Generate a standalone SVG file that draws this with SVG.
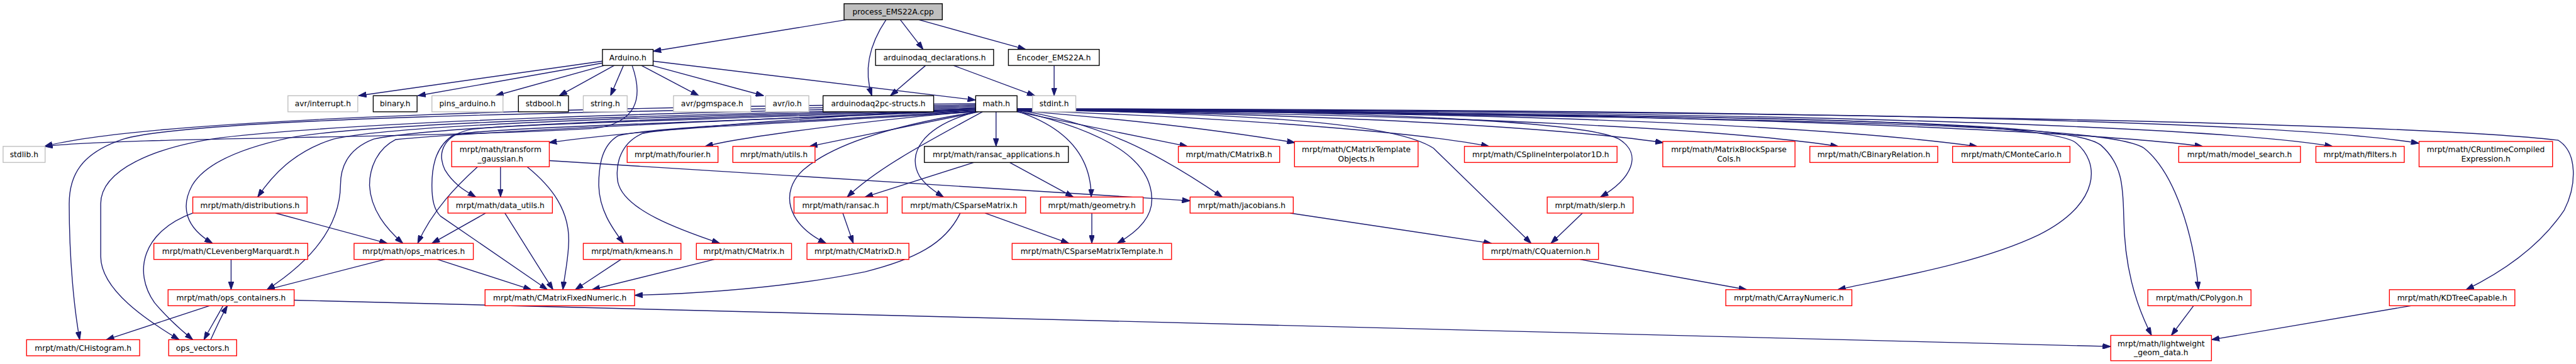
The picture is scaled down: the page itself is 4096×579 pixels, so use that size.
<svg xmlns="http://www.w3.org/2000/svg" width="4096" height="579" viewBox="0 0 4096 579">
<defs>
<marker id="ah" viewBox="0 0 13 9" refX="13" refY="4.5" markerWidth="13" markerHeight="9" orient="auto" markerUnits="userSpaceOnUse">
<path d="M0,0 L13,4.5 L0,9 z" fill="#191970" stroke="#191970" stroke-width="1"/>
</marker>
</defs>
<style>
.n rect{fill:#ffffff;stroke-width:1.4}
.r rect{stroke:#ff0000}
.b rect{stroke:#000000}
.g rect{stroke:#bfbfbf}
.root rect{fill:#bfbfbf;stroke:#000000}
text{font-family:"DejaVu Sans","Liberation Sans",sans-serif;font-size:12.5px;fill:#000000;text-anchor:middle}
#edges path{fill:none;stroke:#191970;stroke-width:1.4;marker-end:url(#ah)}
</style>
<rect x="0" y="0" width="4096" height="579" fill="#ffffff"/>
<g transform="scale(0.9825)">
<g id="edges">
<path d="M1370,32 L1057,83"/>
<path d="M1434,32 C1405,75 1398,115 1411,155"/>
<path d="M1457,32 L1494,80"/>
<path d="M1487,32 L1660,80"/>
<path d="M1498,106 L1441,155"/>
<path d="M1543,106 L1675,155"/>
<path d="M1706,106 L1706,155"/>
<path d="M975,99 L580,155"/>
<path d="M975,102 L676,155"/>
<path d="M978,106 L802,155"/>
<path d="M994,106 L905,155"/>
<path d="M1009,106 L988,155"/>
<path d="M1038,106 L1131,155"/>
<path d="M1055,106 L1236,155"/>
<path d="M1057,99 L1579,162"/>
<path d="M1023,106 C1042,160 1030,200 960,208 C700,224 200,222 72,237"/>
<path d="M1579,168 C1000,172 250,190 72,237"/>
<path d="M1579,170 C1000,180 320,190 200,225 C130,248 112,285 112,330 C112,420 120,500 129,550"/>
<path d="M1579,172 C1100,182 600,195 357,223 C250,238 163,275 163,330 L163,415 C163,470 240,520 290,550"/>
<path d="M1579,174 C1100,186 600,198 469,223 C380,242 330,268 311,300 C292,335 300,368 344,394"/>
<path d="M1579,176 C1100,188 650,200 540,225 C475,245 440,285 417,319"/>
<path d="M1579,177 C1050,192 700,205 605,225 C565,240 551,268 551,300 C550,370 500,425 432,469"/>
<path d="M1579,178 C1100,198 760,214 640,226 C612,240 598,270 598,300 C600,340 625,370 652,394"/>
<path d="M1579,179 C1150,198 800,206 735,218 C707,235 699,265 699,300 C699,325 703,340 713,350 L886,469"/>
<path d="M1579,177 C1150,194 850,200 765,209 C720,217 706,245 720,275 C735,300 755,310 770,319"/>
<path d="M1579,175 C1300,190 1000,215 888,231"/>
<path d="M1580,180 C1400,195 1200,222 1141,237"/>
<path d="M1584,181 L1310,237"/>
<path d="M1579,180 C1300,196 1050,206 1000,220 C975,235 969,265 969,300 C970,340 990,368 1009,394"/>
<path d="M1580,181 C1300,199 1080,206 1040,216 C1005,231 995,265 1000,295 C1010,340 1100,372 1165,394"/>
<path d="M1582,181 C1450,202 1350,232 1300,275 C1262,310 1272,362 1337,394"/>
<path d="M1590,181 C1500,230 1420,272 1371,319"/>
<path d="M1580,181 C1490,205 1468,250 1488,285 C1498,300 1513,310 1527,319"/>
<path d="M1612,181 L1612,237"/>
<path d="M1646,180 C1722,205 1766,250 1766,319"/>
<path d="M1646,179 C1800,215 1862,262 1864,320 C1866,352 1840,376 1808,394"/>
<path d="M1646,178 C1780,200 1870,245 1978,319"/>
<path d="M1646,181 L1922,237"/>
<path d="M1646,179 C1850,195 2000,215 2096,231"/>
<path d="M1646,179 C2000,190 2300,215 2410,237"/>
<path d="M1646,178 C2200,185 2550,210 2692,231"/>
<path d="M1646,178 C2400,186 2800,210 2975,237"/>
<path d="M1646,177 C2600,183 3000,210 3200,237"/>
<path d="M1646,177 C2800,181 3400,215 3565,237"/>
<path d="M1646,177 C3000,180 3600,208 3775,237"/>
<path d="M1646,176 C3200,178 3750,205 3915,232"/>
<path d="M1646,177 C2050,185 2260,200 2320,240 L2478,394"/>
<path d="M1646,176 C2200,180 2560,195 2620,225 C2660,250 2640,290 2590,319"/>
<path d="M1646,177 C2800,185 3300,195 3358,230 C3400,262 3400,330 3300,380 C3200,428 3050,452 2974,469"/>
<path d="M1646,178 C2900,188 3350,195 3400,235 C3434,265 3436,300 3437,350 C3438,430 3455,490 3482,543"/>
<path d="M1646,178 C3000,190 3420,205 3470,240 C3520,280 3550,380 3558,469"/>
<path d="M1646,176 C3000,180 3900,200 4140,227 C4172,247 4170,300 4150,340 C4110,400 4050,440 3991,469"/>
<path d="M810,270 L810,319"/>
<path d="M773,270 C740,300 700,340 676,394"/>
<path d="M853,270 C890,300 925,340 920,400 C918,430 913,450 911,469"/>
<path d="M889,260 L1926,325"/>
<path d="M786,345 L699,394"/>
<path d="M817,345 L895,469"/>
<path d="M446,345 L627,394"/>
<path d="M312,345 C230,375 215,440 250,490 C275,520 300,540 312,550"/>
<path d="M374,420 L374,469"/>
<path d="M623,420 L432,469"/>
<path d="M708,420 L860,469"/>
<path d="M1005,420 L931,469"/>
<path d="M1156,420 L958,469"/>
<path d="M1576,263 L1400,319"/>
<path d="M1634,263 L1737,319"/>
<path d="M1364,345 L1381,394"/>
<path d="M1594,345 L1730,394"/>
<path d="M1554,345 C1530,395 1480,420 1400,440 C1250,470 1100,476 1027,478"/>
<path d="M1767,345 L1767,394"/>
<path d="M2088,345 L2414,394"/>
<path d="M2561,345 L2510,394"/>
<path d="M2557,420 L2827,469"/>
<path d="M361,495 C350,515 338,535 330,550"/>
<path d="M341,550 C350,530 358,512 368,495"/>
<path d="M339,495 L172,550"/>
<path d="M476,486 L3416,561"/>
<path d="M3550,495 L3514,543"/>
<path d="M3902,495 L3579,550"/>
</g>
<g id="n_process" class="n root"><rect x="1366" y="6" width="159" height="26"/><text x="1445.5" y="23.5">process_EMS22A.cpp</text></g>
<g id="n_arduino" class="n b"><rect x="975" y="80" width="82" height="26"/><text x="1016" y="97.5">Arduino.h</text></g>
<g id="n_decl" class="n b"><rect x="1417" y="80" width="191" height="26"/><text x="1512.5" y="97.5">arduinodaq_declarations.h</text></g>
<g id="n_encoder" class="n b"><rect x="1632" y="80" width="147" height="26"/><text x="1705.5" y="97.5">Encoder_EMS22A.h</text></g>
<g id="n_interrupt" class="n g"><rect x="466" y="155" width="113" height="26"/><text x="522.5" y="172.5">avr/interrupt.h</text></g>
<g id="n_binary" class="n b"><rect x="604" y="155" width="71" height="26"/><text x="639.5" y="172.5">binary.h</text></g>
<g id="n_pins" class="n g"><rect x="699" y="155" width="115" height="26"/><text x="756.5" y="172.5">pins_arduino.h</text></g>
<g id="n_stdbool" class="n b"><rect x="839" y="155" width="81" height="26"/><text x="879.5" y="172.5">stdbool.h</text></g>
<g id="n_string" class="n g"><rect x="944" y="155" width="71" height="26"/><text x="979.5" y="172.5">string.h</text></g>
<g id="n_pgmspace" class="n g"><rect x="1090" y="155" width="125" height="26"/><text x="1152.5" y="172.5">avr/pgmspace.h</text></g>
<g id="n_avrio" class="n g"><rect x="1239" y="155" width="70" height="26"/><text x="1274" y="172.5">avr/io.h</text></g>
<g id="n_structs" class="n b"><rect x="1332" y="155" width="179" height="26"/><text x="1421.5" y="172.5">arduinodaq2pc-structs.h</text></g>
<g id="n_math" class="n b"><rect x="1579" y="155" width="67" height="26"/><text x="1612.5" y="172.5">math.h</text></g>
<g id="n_stdint" class="n g"><rect x="1671" y="155" width="70" height="26"/><text x="1706" y="172.5">stdint.h</text></g>
<g id="n_stdlib" class="n g"><rect x="5" y="237" width="68" height="26"/><text x="39" y="254.5">stdlib.h</text></g>
<g id="n_transform" class="n r"><rect x="731" y="229" width="158" height="41"/><text x="810" y="246.5">mrpt/math/transform</text><text x="810" y="261.5">_gaussian.h</text></g>
<g id="n_fourier" class="n r"><rect x="1015" y="237" width="147" height="26"/><text x="1088.5" y="254.5">mrpt/math/fourier.h</text></g>
<g id="n_utils" class="n r"><rect x="1186" y="237" width="133" height="26"/><text x="1252.5" y="254.5">mrpt/math/utils.h</text></g>
<g id="n_ransacapp" class="n b"><rect x="1496" y="237" width="233" height="26"/><text x="1612.5" y="254.5">mrpt/math/ransac_applications.h</text></g>
<g id="n_cmatrixb" class="n r"><rect x="1907" y="237" width="164" height="26"/><text x="1989" y="254.5">mrpt/math/CMatrixB.h</text></g>
<g id="n_cmto" class="n r"><rect x="2095" y="229" width="200" height="41"/><text x="2195" y="246.5">mrpt/math/CMatrixTemplate</text><text x="2195" y="261.5">Objects.h</text></g>
<g id="n_cspline" class="n r"><rect x="2370" y="237" width="247" height="26"/><text x="2493.5" y="254.5">mrpt/math/CSplineInterpolator1D.h</text></g>
<g id="n_mbsc" class="n r"><rect x="2691" y="229" width="214" height="41"/><text x="2798" y="246.5">mrpt/math/MatrixBlockSparse</text><text x="2798" y="261.5">Cols.h</text></g>
<g id="n_cbinrel" class="n r"><rect x="2929" y="237" width="207" height="26"/><text x="3032.5" y="254.5">mrpt/math/CBinaryRelation.h</text></g>
<g id="n_cmonte" class="n r"><rect x="3160" y="237" width="190" height="26"/><text x="3255" y="254.5">mrpt/math/CMonteCarlo.h</text></g>
<g id="n_modelsearch" class="n r"><rect x="3526" y="237" width="197" height="26"/><text x="3624.5" y="254.5">mrpt/math/model_search.h</text></g>
<g id="n_filters" class="n r"><rect x="3748" y="237" width="143" height="26"/><text x="3819.5" y="254.5">mrpt/math/filters.h</text></g>
<g id="n_crce" class="n r"><rect x="3915" y="229" width="216" height="41"/><text x="4023" y="246.5">mrpt/math/CRuntimeCompiled</text><text x="4023" y="261.5">Expression.h</text></g>
<g id="n_distrib" class="n r"><rect x="312" y="319" width="185" height="26"/><text x="404.5" y="336.5">mrpt/math/distributions.h</text></g>
<g id="n_datautils" class="n r"><rect x="725" y="319" width="169" height="26"/><text x="809.5" y="336.5">mrpt/math/data_utils.h</text></g>
<g id="n_ransac" class="n r"><rect x="1285" y="319" width="151" height="26"/><text x="1360.5" y="336.5">mrpt/math/ransac.h</text></g>
<g id="n_csparse" class="n r"><rect x="1460" y="319" width="200" height="26"/><text x="1560" y="336.5">mrpt/math/CSparseMatrix.h</text></g>
<g id="n_geometry" class="n r"><rect x="1684" y="319" width="166" height="26"/><text x="1767" y="336.5">mrpt/math/geometry.h</text></g>
<g id="n_jacobians" class="n r"><rect x="1926" y="319" width="167" height="26"/><text x="2009.5" y="336.5">mrpt/math/jacobians.h</text></g>
<g id="n_slerp" class="n r"><rect x="2504" y="319" width="139" height="26"/><text x="2573.5" y="336.5">mrpt/math/slerp.h</text></g>
<g id="n_clm" class="n r"><rect x="249" y="394" width="249" height="26"/><text x="373.5" y="411.5">mrpt/math/CLevenbergMarquardt.h</text></g>
<g id="n_opsmat" class="n r"><rect x="573" y="394" width="193" height="26"/><text x="669.5" y="411.5">mrpt/math/ops_matrices.h</text></g>
<g id="n_kmeans" class="n r"><rect x="944" y="394" width="158" height="26"/><text x="1023" y="411.5">mrpt/math/kmeans.h</text></g>
<g id="n_cmatrix" class="n r"><rect x="1127" y="394" width="154" height="26"/><text x="1204" y="411.5">mrpt/math/CMatrix.h</text></g>
<g id="n_cmatrixd" class="n r"><rect x="1306" y="394" width="165" height="26"/><text x="1388.5" y="411.5">mrpt/math/CMatrixD.h</text></g>
<g id="n_csmt" class="n r"><rect x="1638" y="394" width="258" height="26"/><text x="1767" y="411.5">mrpt/math/CSparseMatrixTemplate.h</text></g>
<g id="n_cquat" class="n r"><rect x="2400" y="394" width="187" height="26"/><text x="2493.5" y="411.5">mrpt/math/CQuaternion.h</text></g>
<g id="n_opscont" class="n r"><rect x="272" y="469" width="204" height="26"/><text x="374" y="486.5">mrpt/math/ops_containers.h</text></g>
<g id="n_cmfn" class="n r"><rect x="785" y="469" width="242" height="26"/><text x="906" y="486.5">mrpt/math/CMatrixFixedNumeric.h</text></g>
<g id="n_carray" class="n r"><rect x="2793" y="469" width="204" height="26"/><text x="2895" y="486.5">mrpt/math/CArrayNumeric.h</text></g>
<g id="n_cpolygon" class="n r"><rect x="3476" y="469" width="167" height="26"/><text x="3559.5" y="486.5">mrpt/math/CPolygon.h</text></g>
<g id="n_kdtree" class="n r"><rect x="3867" y="469" width="203" height="26"/><text x="3968.5" y="486.5">mrpt/math/KDTreeCapable.h</text></g>
<g id="n_chist" class="n r"><rect x="43" y="550" width="183" height="26"/><text x="134.5" y="567.5">mrpt/math/CHistogram.h</text></g>
<g id="n_opsvec" class="n r"><rect x="273" y="550" width="110" height="26"/><text x="328" y="567.5">ops_vectors.h</text></g>
<g id="n_lightweight" class="n r"><rect x="3416" y="543" width="163" height="41"/><text x="3497.5" y="560.5">mrpt/math/lightweight</text><text x="3497.5" y="575.5">_geom_data.h</text></g>
</g>
</svg>
